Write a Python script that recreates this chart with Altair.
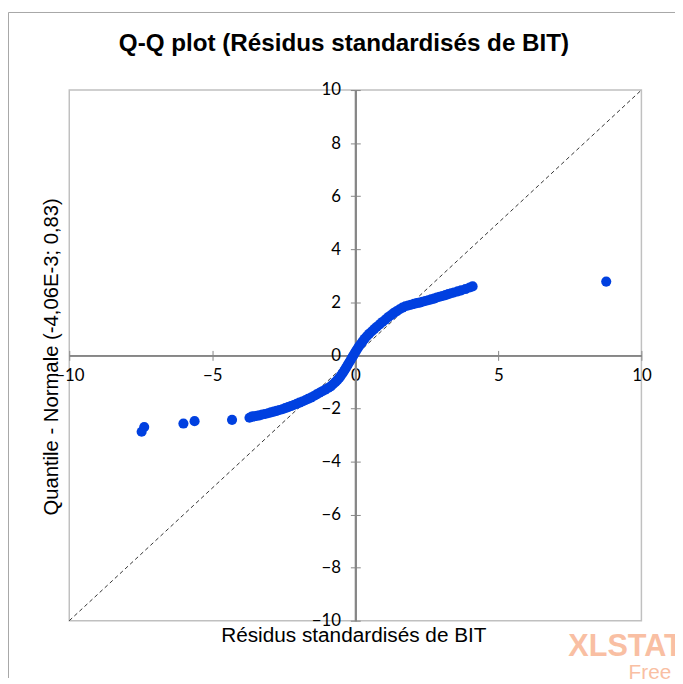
import altair as alt
import pandas as pd

# Dense body of the Q-Q curve (standardised residual, normal quantile)
res_x = [-3.70, -3.62, -3.55, -3.45, -3.35, -3.25, -3.15, -3.05, -2.95, -2.85,
         -2.75, -2.65, -2.55, -2.45, -2.35, -2.25, -2.15, -2.05, -1.95, -1.85,
         -1.75, -1.65, -1.55, -1.45, -1.35, -1.25, -1.15, -1.05, -0.95, -0.86,
         -0.78, -0.70, -0.63, -0.57, -0.51, -0.45, -0.39, -0.34, -0.29, -0.24,
         -0.19, -0.14, -0.09, -0.04, 0.01, 0.06, 0.12, 0.18, 0.25, 0.32,
         0.40, 0.48, 0.57, 0.66, 0.75, 0.85, 0.95, 1.05, 1.15, 1.25,
         1.35, 1.45, 1.55, 1.65, 1.75, 1.85, 1.95, 2.05, 2.15, 2.25,
         2.35, 2.45, 2.55, 2.65, 2.75, 2.85, 2.95, 3.05, 3.15, 3.25,
         3.35, 3.45, 3.58, 3.70, 3.85, 4.00, 4.10]
norm_q = [-2.35, -2.31, -2.30, -2.28, -2.26, -2.23, -2.21, -2.18, -2.15, -2.12,
          -2.09, -2.06, -2.03, -1.99, -1.95, -1.91, -1.87, -1.83, -1.78, -1.74,
          -1.69, -1.64, -1.59, -1.53, -1.47, -1.41, -1.35, -1.29, -1.23, -1.17,
          -1.09, -1.01, -0.93, -0.86, -0.77, -0.68, -0.58, -0.49, -0.40, -0.31,
          -0.22, -0.13, -0.04, 0.05, 0.14, 0.23, 0.33, 0.42, 0.52, 0.62,
          0.72, 0.81, 0.90, 0.99, 1.08, 1.17, 1.26, 1.35, 1.44, 1.52,
          1.60, 1.67, 1.74, 1.80, 1.85, 1.88, 1.91, 1.94, 1.97, 1.99,
          2.02, 2.05, 2.08, 2.11, 2.14, 2.18, 2.21, 2.24, 2.27, 2.31,
          2.34, 2.37, 2.41, 2.45, 2.50, 2.56, 2.60]

# Isolated points in the tails
out_x = [-7.47, -7.38, -6.01, -5.62, -4.31, 8.77]
out_y = [-2.88, -2.70, -2.57, -2.48, -2.43, 2.78]

# Reference line y = x
diag_x = [-10, 10]
diag_y = [-10, 10]

x_ticks = [-10, -5, 0, 5, 10]
y_ticks = [-10, -8, -6, -4, -2, 0, 2, 4, 6, 8, 10]

title_text = "Q-Q plot (Résidus standardisés de BIT)"
x_title = "Résidus standardisés de BIT"
y_title = "Quantile - Normale (-4,06E-3; 0,83)"

W, H = 579, 537
PAD = {"left": 62, "top": 79, "right": 34, "bottom": 58}

GRAY = "#868686"
BLUE = "#0040E0"
LABEL_FONT = "Lato"
TITLE_FONT = "Liberation Sans Narrow, Arial Narrow, Liberation Sans, sans-serif"

pts = pd.DataFrame({"x": res_x + out_x, "y": norm_q + out_y})
diag = pd.DataFrame({"x": diag_x, "y": diag_y})

xscale = alt.Scale(domain=[-10, 10], nice=False, zero=False)
yscale = alt.Scale(domain=[-10, 10], nice=False, zero=False)

common_axis = dict(
    title=None, grid=False, domainColor=GRAY, domainWidth=2,
    tickColor=GRAY, tickWidth=1, tickSize=5,
    labelFont=LABEL_FONT, labelFontSize=17, labelColor="black",
    labelFlush=False, labelOverlap=False,
)

x_bottom = alt.Axis(orient="bottom", offset=-H / 2, values=x_ticks,
                    labelPadding=7, **common_axis)
x_top = alt.Axis(orient="top", offset=-H / 2, values=x_ticks, labels=False,
                 **common_axis)
y_left = alt.Axis(orient="left", offset=-W / 2, values=y_ticks,
                  labelPadding=10, **common_axis)
y_right = alt.Axis(orient="right", offset=-W / 2, values=y_ticks, labels=False,
                   **common_axis)

diag_layer = alt.Chart(diag).mark_line(
    color="black", strokeWidth=0.8, strokeDash=[4, 3]
).encode(
    x=alt.X("x:Q", scale=xscale, axis=x_top),
    y=alt.Y("y:Q", scale=yscale, axis=y_right),
)

point_layer = alt.Chart(pts).mark_circle(
    color=BLUE, opacity=1, size=105
).encode(
    x=alt.X("x:Q", scale=xscale, axis=x_bottom),
    y=alt.Y("y:Q", scale=yscale, axis=y_left),
)

one = pd.DataFrame({"t": [title_text]})
title_layer = alt.Chart(one).mark_text(
    font=TITLE_FONT, fontSize=24.5, fontWeight="bold", color="black",
    align="center", baseline="middle"
).encode(x=alt.value(278), y=alt.value(-47), text="t:N")

xt_layer = alt.Chart(pd.DataFrame({"t": [x_title]})).mark_text(
    font=TITLE_FONT, fontSize=21, color="black", align="center", baseline="middle"
).encode(x=alt.value(288), y=alt.value(553), text="t:N")

yt_layer = alt.Chart(pd.DataFrame({"t": [y_title]})).mark_text(
    font=TITLE_FONT, fontSize=20.5, color="black", align="center", baseline="middle",
    angle=270
).encode(x=alt.value(-17), y=alt.value(270), text="t:N")

wm1 = alt.Chart(pd.DataFrame({"t": ["XLSTAT"]})).mark_text(
    font="Liberation Sans, sans-serif", fontSize=31, fontWeight="bold",
    color="#F9BFA3", align="left", baseline="middle"
).encode(x=alt.value(505), y=alt.value(564), text="t:N")

wm2 = alt.Chart(pd.DataFrame({"t": ["Free"]})).mark_text(
    font="Liberation Sans Narrow, Liberation Sans, sans-serif", fontSize=21,
    color="#F9BFA3", align="left", baseline="middle"
).encode(x=alt.value(566), y=alt.value(590), text="t:N")

zero = pd.DataFrame({"a": [0]})
border_left = alt.Chart(zero).mark_rule(color="#A6A6A6", strokeWidth=1).encode(
    x=alt.value(-61.5), y=alt.value(-78.5), y2=alt.value(H + PAD["bottom"])
)
border_top = alt.Chart(zero).mark_rule(color="#A6A6A6", strokeWidth=1).encode(
    x=alt.value(-61.5), x2=alt.value(W + PAD["right"]), y=alt.value(-78.5)
)

chart = alt.layer(
    diag_layer, point_layer, title_layer, xt_layer, yt_layer, wm1, wm2,
    border_left, border_top
).resolve_axis(
    x="independent", y="independent"
).properties(
    width=W, height=H,
    autosize=alt.AutoSizeParams(type="none"),
    padding=PAD,
    background="white",
).configure_axis(
    labelFont=LABEL_FONT, labelFontSize=17
).configure_view(
    stroke="#C0C0C0", strokeWidth=1.5
)

chart.save("out.html", embed_options={"renderer": "svg", "actions": False})
